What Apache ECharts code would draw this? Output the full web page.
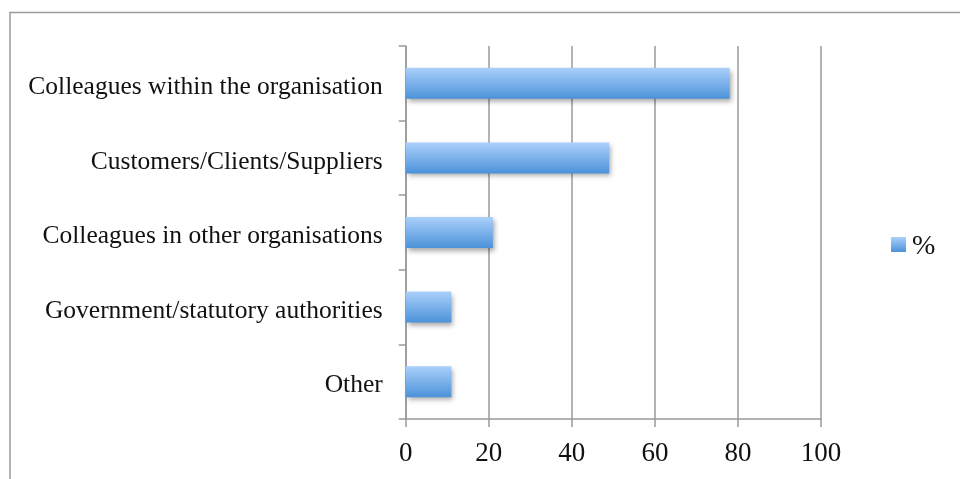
<!DOCTYPE html>
<html>
<head>
<meta charset="utf-8">
<style>
  html, body { margin: 0; padding: 0; background: #fff; }
  #chart { width: 960px; height: 479px; }
</style>
<script src="https://cdn.jsdelivr.net/npm/echarts@6/dist/echarts.min.js"></script>
</head>
<body>
<div id="chart"></div>
<script>
// Sources of information, share of respondents
const categories = [
  'Colleagues within the organisation',
  'Customers/Clients/Suppliers',
  'Colleagues in other organisations',
  'Government/statutory authorities',
  'Other'
];
const percentValues = [78, 49, 21, 11, 11];
const seriesName = '%';
const xTicks = { min: 0, max: 100, interval: 20 };

const serif = '"Liberation Serif", "DejaVu Serif", serif';
const gridColor = '#9a9a9a';

const chart = echarts.init(document.getElementById('chart'), null, { renderer: 'canvas' });

chart.setOption({
  animation: false,
  backgroundColor: '#ffffff',
  graphic: [{
    // outer frame, open past the right and bottom edges
    type: 'rect',
    shape: { x: 10, y: 12.5, width: 1000, height: 500 },
    style: { fill: 'none', stroke: '#9a9a9a', lineWidth: 1.5 },
    silent: true,
    z: -10
  }],
  grid: { left: 405.7, right: 139, top: 46, bottom: 60, containLabel: false },
  legend: {
    data: [seriesName],
    left: 891, top: 233,
    padding: 0,
    itemWidth: 15, itemHeight: 15, itemGap: 6,
    formatter: (name) => '{p|' + name + '}',
    textStyle: {
      rich: {
        p: { fontFamily: serif, fontSize: 28, color: '#111', padding: [5, 0, 0, 1] }
      }
    },
    icon: 'rect'
  },
  xAxis: {
    type: 'value',
    min: xTicks.min, max: xTicks.max, interval: xTicks.interval,
    axisLine: { show: true, lineStyle: { color: gridColor, width: 1.5 } },
    axisTick: { show: true, length: 8, lineStyle: { color: gridColor, width: 1.5 } },
    splitLine: { show: true, lineStyle: { color: gridColor, width: 1.5 } },
    axisLabel: { fontFamily: serif, fontSize: 27, color: '#111', margin: 21 }
  },
  yAxis: {
    type: 'category',
    data: categories,
    inverse: true,
    axisLine: { show: true, lineStyle: { color: gridColor, width: 1.5 } },
    axisTick: { show: true, length: 7, lineStyle: { color: gridColor, width: 1.5 } },
    axisLabel: {
      margin: 23,
      formatter: (v) => '{c|' + v + '}',
      rich: {
        c: { fontFamily: serif, fontSize: 25.5, color: '#111', padding: [8, 0, 0, 0] }
      }
    }
  },
  series: [{
    name: seriesName,
    type: 'bar',
    data: percentValues,
    barWidth: 31,
    itemStyle: {
      color: new echarts.graphic.LinearGradient(0, 0, 0, 1, [
        { offset: 0, color: '#abd0fb' },
        { offset: 1, color: '#4c92d9' }
      ]),
      shadowColor: 'rgba(0,0,0,0.35)',
      shadowBlur: 5,
      shadowOffsetX: 2,
      shadowOffsetY: 3
    }
  }]
});
</script>
</body>
</html>
